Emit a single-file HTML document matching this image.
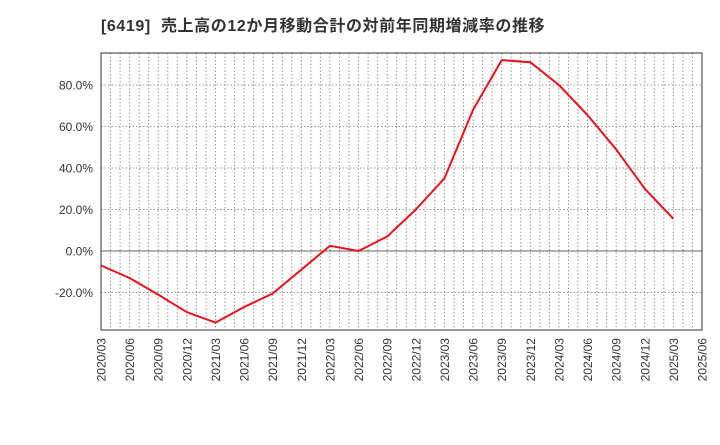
<!DOCTYPE html>
<html><head><meta charset="utf-8"><style>
body{margin:0;background:#fff;width:720px;height:440px;overflow:hidden;font-family:"Liberation Sans","Noto Sans CJK JP",sans-serif}
</style></head><body>
<svg id="chart" width="720" height="440" xmlns="http://www.w3.org/2000/svg" font-family="Liberation Sans, Noto Sans CJK JP, sans-serif">
<text x="101" y="31" font-size="16" font-weight="bold" fill="#333" letter-spacing="0.6" xml:space="preserve">[6419]  売上高の12か月移動合計の対前年同期増減率の推移</text>
<g id="grid"></g>
<g id="axes"></g>
<g id="series"></g>
</svg>
<script>
const categories=["2020/03","2020/06","2020/09","2020/12","2021/03","2021/06","2021/09","2021/12","2022/03","2022/06","2022/09","2022/12","2023/03","2023/06","2023/09","2023/12","2024/03","2024/06","2024/09","2024/12","2025/03","2025/06"];
const values=[-7,-13,-21,-29.5,-34.5,-27,-20.5,-9,2.5,0,7,20,35,68,92,91,80,65.5,49,30,15.5,null];
const yTicks=[-20,0,20,40,60,80];
const yTickLabels=["-20.0%","0.0%","20.0%","40.0%","60.0%","80.0%"];
const L=101,R=702,T=53,B=330;
const qw=(R-L)/(categories.length-1);
function x(i){return L+i*qw;}
function y(v){return 251-v*2.075;}
const NS="http://www.w3.org/2000/svg";
function mk(tag,attrs,parent){const e=document.createElementNS(NS,tag);for(const k in attrs)e.setAttribute(k,attrs[k]);document.getElementById(parent).appendChild(e);return e;}
for(let m=1;m<(categories.length-1)*3;m++){
 const l=mk("line",{x1:L+m*qw/3,x2:L+m*qw/3,y1:T,y2:B,stroke:"#999","stroke-width":1,"stroke-dasharray":"1.5,2"},"grid");
 
 
}
yTicks.forEach((v,i)=>{
 const l=mk("line",{x1:L,x2:R,y1:y(v),y2:y(v),stroke:v===0?"#666":"#999","stroke-width":1,"stroke-dasharray":v===0?"none":"1.5,2"},"grid");
 
 
 const t=mk("text",{x:L-8,y:y(v)+4.5,"text-anchor":"end","font-size":12,fill:"#333"},"axes");
 t.textContent=yTickLabels[i];
 
 
});
const frame=mk("rect",{x:L,y:T,width:R-L,height:B-T,fill:"none",stroke:"#333","stroke-width":1},"axes");


categories.forEach((c,i)=>{
 const t=mk("text",{transform:`translate(${x(i)+4.5},${B+8}) rotate(-90)`,"text-anchor":"end","font-size":12,fill:"#333"},"axes");
 t.textContent=c;
 
 
});
let d="";
values.forEach((v,i)=>{if(v!==null)d+=(d?"L":"M")+x(i).toFixed(1)+","+y(v).toFixed(1);});
const p=mk("path",{d:d,fill:"none",stroke:"#e8141a","stroke-width":2,"stroke-linejoin":"round"},"series");


</script>
</body></html>
